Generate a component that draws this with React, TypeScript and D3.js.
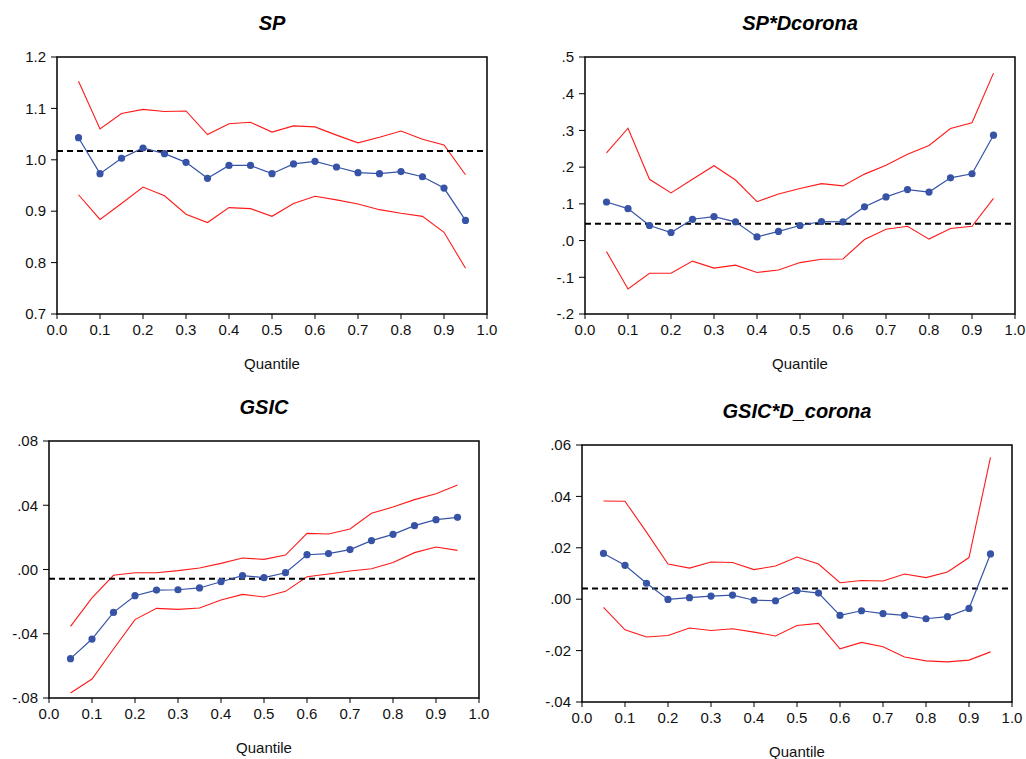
import React from 'react';
import * as d3 from 'd3';

const quantiles = [0.05, 0.1, 0.15, 0.2, 0.25, 0.3, 0.35, 0.4, 0.45, 0.5, 0.55, 0.6, 0.65, 0.7, 0.75, 0.8, 0.85, 0.9, 0.95];
const xTicks = [0, 0.1, 0.2, 0.3, 0.4, 0.5, 0.6, 0.7, 0.8, 0.9, 1.0];

// SP
const spCoef = [1.043, 0.973, 1.003, 1.023, 1.012, 0.995, 0.964, 0.989, 0.989, 0.973, 0.992, 0.997, 0.986, 0.975, 0.973, 0.977, 0.967, 0.945, 0.882];
const spUpper = [1.153, 1.06, 1.09, 1.098, 1.094, 1.095, 1.049, 1.07, 1.073, 1.054, 1.066, 1.064, 1.048, 1.033, 1.044, 1.056, 1.04, 1.029, 0.971];
const spLower = [0.932, 0.884, 0.915, 0.947, 0.93, 0.894, 0.878, 0.907, 0.905, 0.89, 0.915, 0.929, 0.922, 0.914, 0.903, 0.896, 0.89, 0.859, 0.789];
const spOls = 1.017;
const spTicks = [0.7, 0.8, 0.9, 1.0, 1.1, 1.2];

// SP*Dcorona
const spdCoef = [0.105, 0.087, 0.041, 0.022, 0.058, 0.065, 0.051, 0.01, 0.025, 0.041, 0.052, 0.051, 0.092, 0.119, 0.139, 0.132, 0.171, 0.182, 0.287];
const spdUpper = [0.239, 0.306, 0.167, 0.13, 0.167, 0.204, 0.165, 0.106, 0.127, 0.142, 0.155, 0.149, 0.181, 0.205, 0.235, 0.259, 0.305, 0.321, 0.456];
const spdLower = [-0.03, -0.132, -0.089, -0.089, -0.056, -0.075, -0.067, -0.087, -0.08, -0.06, -0.051, -0.05, 0.003, 0.031, 0.039, 0.004, 0.033, 0.039, 0.115];
const spdOls = 0.046;
const spdTicks = [-0.2, -0.1, 0, 0.1, 0.2, 0.3, 0.4, 0.5];

// GSIC
const gsicCoef = [-0.0555, -0.0433, -0.0267, -0.0163, -0.0128, -0.0126, -0.0115, -0.0076, -0.0038, -0.0051, -0.002, 0.0092, 0.0099, 0.0124, 0.018, 0.0219, 0.0273, 0.031, 0.0325];
const gsicUpper = [-0.0354, -0.0177, -0.0036, -0.002, -0.002, -0.0007, 0.0009, 0.0038, 0.0072, 0.0063, 0.009, 0.0225, 0.0221, 0.0252, 0.035, 0.0389, 0.0435, 0.0472, 0.0526];
const gsicLower = [-0.0769, -0.0682, -0.0495, -0.0312, -0.0242, -0.0248, -0.024, -0.019, -0.0155, -0.0171, -0.0136, -0.0045, -0.0028, -0.0009, 0.0005, 0.0043, 0.0105, 0.014, 0.0119];
const gsicOls = -0.0057;
const gsicTicks = [-0.08, -0.04, 0, 0.04, 0.08];

// GSIC*D_corona
const gsdCoef = [0.0178, 0.0132, 0.0062, -0.0001, 0.0006, 0.0012, 0.0016, -0.0004, -0.0006, 0.0033, 0.0024, -0.0063, -0.0045, -0.0056, -0.0063, -0.0076, -0.0068, -0.0036, 0.0176];
const gsdUpper = [0.0382, 0.0381, 0.0261, 0.0137, 0.0121, 0.0145, 0.0143, 0.0115, 0.0129, 0.0164, 0.0137, 0.0064, 0.0073, 0.0071, 0.0098, 0.0084, 0.0106, 0.0162, 0.0552];
const gsdLower = [-0.0032, -0.0119, -0.0147, -0.0141, -0.0112, -0.0122, -0.0115, -0.0128, -0.0143, -0.0102, -0.0094, -0.0193, -0.0168, -0.0185, -0.0225, -0.024, -0.0244, -0.0237, -0.0205];
const gsdOls = 0.0042;
const gsdTicks = [-0.04, -0.02, 0, 0.02, 0.04, 0.06];

const FONT = '"Liberation Sans", Arial, sans-serif';
const BLUE = '#3653a6';
const RED = '#ff1a1a';

// EViews style labels: ".5", "-.04", but "0.7" for the SP panel
const fmt = (digits: number, lead: boolean) => (v: number) => {
  const s = (Math.abs(v) < 1e-12 ? 0 : v).toFixed(digits);
  return lead ? s : s.replace(/^(-?)0\./, '$1.');
};

type PanelProps = {
  title: string;
  left: number;
  top: number;
  width: number;
  height: number;
  coef: number[];
  upper: number[];
  lower: number[];
  ols: number;
  yTicks: number[];
  format: (v: number) => string;
};

const Panel = ({ title, left, top, width, height, coef, upper, lower, ols, yTicks, format }: PanelProps) => {
  const x = d3.scaleLinear().domain([0, 1]).range([0, width]);
  const y = d3
    .scaleLinear()
    .domain([yTicks[0], yTicks[yTicks.length - 1]])
    .range([height, 0]);

  const line = d3
    .line<number>()
    .x((d, i) => x(quantiles[i]))
    .y((d) => y(d));

  return (
    <g transform={`translate(${left},${top})`} fontFamily={FONT}>
      <text
        x={width / 2}
        y={-27}
        textAnchor='middle'
        fontSize={20}
        fontWeight='bold'
        fontStyle='italic'
      >
        {title}
      </text>
      <path d={line(upper) || ''} fill='none' stroke={RED} strokeWidth={1.1} />
      <path d={line(lower) || ''} fill='none' stroke={RED} strokeWidth={1.1} />
      <line
        x1={0}
        x2={width}
        y1={y(ols)}
        y2={y(ols)}
        stroke='#000'
        strokeWidth={2}
        strokeDasharray='6,4'
      />
      <path d={line(coef) || ''} fill='none' stroke={BLUE} strokeWidth={1.2} />
      {coef.map((d, i) => (
        <circle key={i} cx={x(quantiles[i])} cy={y(d)} r={3.6} fill={BLUE} />
      ))}
      <rect x={0} y={0} width={width} height={height} fill='none' stroke='#000' strokeWidth={1.5} />
      {yTicks.map((t) => (
        <g key={t} transform={`translate(0,${y(t)})`}>
          <line x1={-6} x2={0} stroke='#000' strokeWidth={1} />
          <text x={-11} dy='0.35em' textAnchor='end' fontSize={15} fill='#111'>
            {format(t)}
          </text>
        </g>
      ))}
      {xTicks.map((t) => (
        <g key={t} transform={`translate(${x(t)},${height})`}>
          <line y1={0} y2={5} stroke='#000' strokeWidth={1} />
          <text y={21} textAnchor='middle' fontSize={15} fill='#111'>
            {t.toFixed(1)}
          </text>
        </g>
      ))}
      <text x={width / 2} y={height + 55} textAnchor='middle' fontSize={15} fill='#111'>
        Quantile
      </text>
    </g>
  );
};

const App = () => {
  return (
    <svg
      width={1026}
      height={759}
      style={{ position: 'absolute', left: 0, top: 0, background: '#fff', display: 'block' }}
    >
      <Panel
        title='SP'
        left={57}
        top={57}
        width={430}
        height={257}
        coef={spCoef}
        upper={spUpper}
        lower={spLower}
        ols={spOls}
        yTicks={spTicks}
        format={fmt(1, true)}
      />
      <Panel
        title='SP*Dcorona'
        left={585}
        top={57}
        width={430}
        height={257}
        coef={spdCoef}
        upper={spdUpper}
        lower={spdLower}
        ols={spdOls}
        yTicks={spdTicks}
        format={fmt(1, false)}
      />
      <Panel
        title='GSIC'
        left={49}
        top={441}
        width={430}
        height={257}
        coef={gsicCoef}
        upper={gsicUpper}
        lower={gsicLower}
        ols={gsicOls}
        yTicks={gsicTicks}
        format={fmt(2, false)}
      />
      <Panel
        title='GSIC*D_corona'
        left={582}
        top={445}
        width={430}
        height={257}
        coef={gsdCoef}
        upper={gsdUpper}
        lower={gsdLower}
        ols={gsdOls}
        yTicks={gsdTicks}
        format={fmt(2, false)}
      />
    </svg>
  );
};

export default App;
